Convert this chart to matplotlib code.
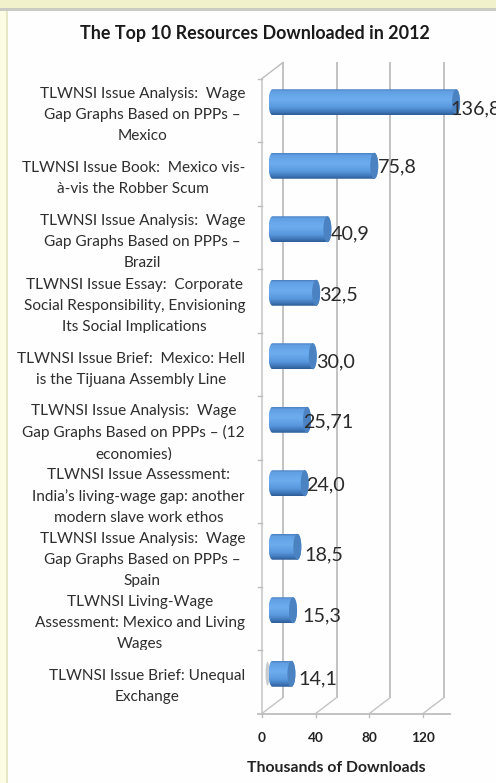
import numpy as np
import matplotlib
matplotlib.use("Agg")
import matplotlib.pyplot as plt
from matplotlib.colors import LinearSegmentedColormap
from matplotlib.patches import Ellipse, PathPatch, Rectangle
from matplotlib.path import Path
from matplotlib.transforms import Bbox, TransformedBbox

# ---- data ----
TITLE = "The Top 10 Resources Downloaded in 2012"
XLABEL = "Thousands of Downloads"
categories = [
    "TLWNSI Issue Analysis:  Wage\nGap Graphs Based on PPPs –\nMexico",
    "TLWNSI Issue Book:  Mexico vis-\nà-vis the Robber Scum",
    "TLWNSI Issue Analysis:  Wage\nGap Graphs Based on PPPs –\nBrazil",
    "TLWNSI Issue Essay:  Corporate\nSocial Responsibility, Envisioning\nIts Social Implications",
    "TLWNSI Issue Brief:  Mexico: Hell\nis the Tijuana Assembly Line",
    "TLWNSI Issue Analysis:  Wage\nGap Graphs Based on PPPs – (12\neconomies)",
    "TLWNSI Issue Assessment:\nIndia’s living-wage gap: another\nmodern slave work ethos",
    "TLWNSI Issue Analysis:  Wage\nGap Graphs Based on PPPs –\nSpain",
    "TLWNSI Living-Wage\nAssessment: Mexico and Living\nWages",
    "TLWNSI Issue Brief: Unequal\nExchange",
]
downloads = [136.8, 75.8, 40.9, 32.5, 30.0, 25.71, 24.0, 18.5, 15.3, 14.1]
xticks = [0, 40, 80, 120]

# ---- layout, in pixels ----
W, H = 496, 783
PX_PER_UNIT = 1.342
X0_PX = 262
BAND_PX = 63.5
Y0_PX = 110.25
DEPTH_X_PX, DEPTH_Y_PX = 21, 16
CAP_PX = 4
BAR_H_PX = 26
# hand-placed value labels: offset from the bar end (x) and the bar centre (y)
value_label_dx = [-10, 0, -1, -1, -1, -8, -3, 3, 5, 3]
value_label_dy = [7, 1, 5, 2, 6, 2, 2, 8, 6, 5]

plt.rcParams["font.family"] = ["Lato", "DejaVu Sans"]
fig = plt.figure(figsize=(W / 100, H / 100), dpi=100, facecolor="#FCFCE3")

# page frame
pt = fig.transFigure
fig.add_artist(Rectangle((0, 1 - 8 / H), 1, 8 / H, transform=pt, color="#F1F1CB", lw=0, zorder=0))
fig.add_artist(Rectangle((8 / W, 0), 1, 1 - 11 / H, transform=pt, color="#FEFEFE", lw=0, zorder=0))
fig.add_artist(Rectangle((0, 1 - 11 / H), 1, 3 / H, transform=pt, color="#C9CBC4", lw=0, zorder=0))
fig.add_artist(Rectangle((6 / W, 0), 2 / W, 1 - 11 / H, transform=pt, color="#E6E7C6", lw=0, zorder=0))

ax = fig.add_axes([0, 0, 1, 1])
ax.set_zorder(2)
ax.axis("off")

ux = 1 / PX_PER_UNIT   # one pixel along x, in data units
uy = 1 / BAND_PX       # one pixel along y, in data units
xlim = (-X0_PX * ux, (W - X0_PX) * ux)
ylim = ((H - Y0_PX) * uy, -Y0_PX * uy)
ax.set_xlim(*xlim)
ax.set_ylim(*ylim)

# chart frame: side wall, back wall gridlines, floor
n = len(categories)
top, bottom = -0.5, n - 0.5
dx, dy = DEPTH_X_PX * ux, DEPTH_Y_PX * uy
grid = dict(color="#BDBDBD", lw=1.3, solid_capstyle="butt", zorder=1)
ax.plot([0, 0], [top, bottom], color="#C4C4C4", lw=1.1, zorder=1)
ax.plot([0, dx], [top, top - dy], color="#BDBDBD", lw=1.0, zorder=1)
for t in xticks:
    ax.plot([t + dx, t + dx], [top - dy, bottom - dy], **grid)
    ax.plot([t, t + dx], [bottom, bottom - dy], color="#C4C4C4", lw=1.0, zorder=1)
    ax.plot([t, t], [bottom, bottom + 3 * uy], color="#BDBDBD", lw=1.0, zorder=1)
    ax.text(t, bottom + 25 * uy, str(t), ha="center", va="center",
            fontsize=9.8, fontweight="bold", color="#222222", zorder=5)
ax.plot([-4 * ux, 140], [bottom, bottom], color="#BDBDBD", lw=1.3, zorder=1)
for e in np.arange(n) - 0.5:
    ax.plot([-4 * ux, 0], [e, e], color="#BDBDBD", lw=1.0, zorder=1)

# cylinders
body_cmap = LinearSegmentedColormap.from_list("body", [
    (0.00, "#4A80BE"), (0.08, "#629FE4"), (0.40, "#6DADEF"),
    (0.70, "#5A99DE"), (0.88, "#4079BC"), (1.00, "#2D5D96"),
])
gradient = np.linspace(0, 1, 64).reshape(-1, 1)
theta = np.linspace(np.pi / 2, 3 * np.pi / 2, 24)
cap_w = CAP_PX * ux
half_h = BAR_H_PX * uy / 2
shift_x, shift_y = (DEPTH_X_PX / 2) * ux, (DEPTH_Y_PX / 2) * uy

for i, v in enumerate(downloads):
    yc = i - shift_y
    x0, x1 = shift_x, v + shift_x
    # outline: rounded left end, then the far end's outer curve
    lx = x0 + cap_w * np.cos(theta)
    ly = yc - half_h * np.sin(theta)
    rx = x1 - cap_w * np.cos(theta)
    ry = yc + half_h * np.sin(theta)
    verts = np.column_stack([np.r_[lx, rx], np.r_[ly, ry]])
    outline = PathPatch(Path(np.vstack([verts, verts[:1]])), transform=ax.transData, fc="none", ec="none")
    ax.add_patch(outline)
    im = ax.imshow(gradient, cmap=body_cmap, aspect="auto", zorder=3, interpolation="bilinear",
                   extent=(x0 - cap_w, x1 + cap_w, yc + half_h, yc - half_h), vmin=0, vmax=1)
    im.set_clip_path(outline)
    ax.add_patch(Ellipse((x1, yc), 2 * cap_w, 2 * half_h, fc="#4B82C2", ec="none", zorder=4))

# grey smudge beside the last bar
ax.add_patch(Ellipse((shift_x - 5 * ux, n - 1 - shift_y), 4 * ux, 24 * uy, fc="#C8CCD0", ec="none", zorder=2))

# value labels
for i, v in enumerate(downloads):
    text = str(v).replace(".", ",")
    ax.text(v + shift_x + cap_w + value_label_dx[i] * ux, i - shift_y + value_label_dy[i] * uy,
            text, ha="left", va="center", fontsize=14.2, color="#2a2a2a", zorder=6)

# category labels, cut off at the foot of their band
for i, name in enumerate(categories):
    t = ax.text(-17 * ux, i + 5 * uy, name, ha="right", va="center", multialignment="center",
                fontsize=11.1, color="#2e2e2e", linespacing=1.62, zorder=5)
    t.set_clip_box(TransformedBbox(Bbox([[-X0_PX * ux, i - 0.5], [0, i + 0.5]]), ax.transData))
    t.set_clip_on(True)

fig.text(255 / W, 1 - 33 / H, TITLE, ha="center", va="center", fontsize=12.9, fontweight="bold", color="#1a1a1a", zorder=5)
fig.text(336 / W, 1 - 768 / H, XLABEL, ha="center", va="center", fontsize=11.3, fontweight="bold", color="#222222", zorder=5)

# imshow widens the view, so restore it once everything is placed
ax.set_xlim(*xlim)
ax.set_ylim(*ylim)

fig.savefig("out.png", dpi=100, facecolor=fig.get_facecolor())
